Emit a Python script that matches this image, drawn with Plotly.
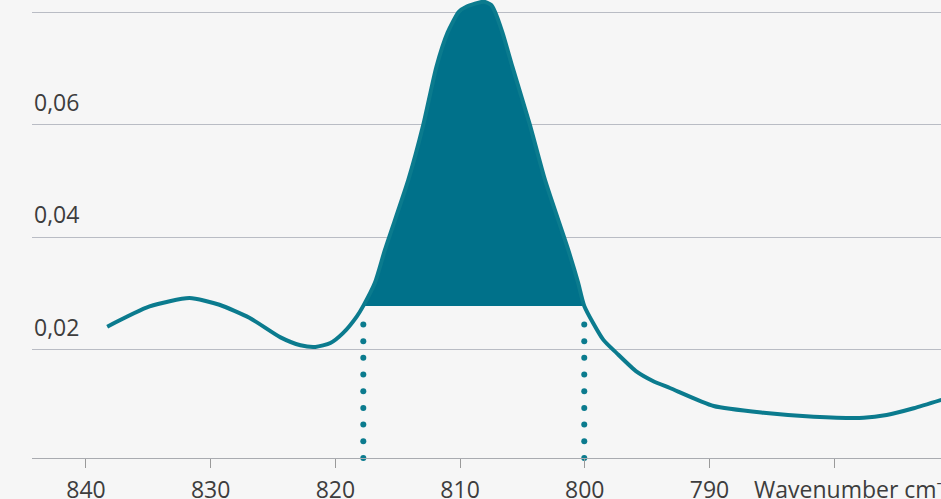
import numpy as np
import plotly.graph_objects as go

# ---- data ----
wavenumber = [838.3, 834.9, 831.7, 829.3, 826.9, 824.4, 822.8, 821.6, 820.4, 819.37, 818.29,
              817.76, 816.83, 816.02, 814.15, 812.95, 811.9, 811.0, 810.1, 809.5, 808.1, 807.5,
              807.2, 806.6, 805.8, 804.4, 803.19, 801.33, 800.53, 800.04, 798.52, 797.44, 795.84,
              794.5, 793.17, 789.66, 785.65, 781.64, 777.63, 775.79, 773.62, 771.4]
absorbance = [0.0241, 0.0277, 0.0292, 0.0280, 0.0257, 0.0222, 0.0208, 0.0205, 0.0212, 0.0230, 0.0259,
              0.0278, 0.0319, 0.0378, 0.0502, 0.0600, 0.0703, 0.0764, 0.0801, 0.0810, 0.0819, 0.0813,
              0.0801, 0.0764, 0.0703, 0.0600, 0.0502, 0.0378, 0.0319, 0.0278, 0.0218, 0.0194, 0.0161,
              0.0144, 0.0132, 0.0100, 0.0088, 0.0081, 0.0079, 0.0084, 0.0096, 0.0111]

band_start = 817.76   # integration limits
band_end = 800.04
band_baseline = 0.0278

x_tick_vals = [840, 830, 820, 810, 800, 790, 780]
x_tick_text = ["840", "830", "820", "810", "800", "790", " "]
y_tick_vals = [0.02, 0.04, 0.06, 0.08]
y_tick_text = ["0,02", "0,04", "0,06", ""]

LINE = "#0b7b8e"
FILL = "#00718a"
TXT = "#3d3d3d"
FONT = "Open Sans"
SMOOTH = 0.6

wn = np.array(wavenumber)
ab = np.array(absorbance)
mask = (wn <= band_start + 1e-9) & (wn >= band_end - 1e-9)

fig = go.Figure()

# baseline of the band (invisible), then the band filled to it
fig.add_trace(go.Scatter(x=[band_start, band_end], y=[band_baseline, band_baseline],
                         mode="lines", line=dict(width=0, color=FILL),
                         showlegend=False, hoverinfo="skip"))
fig.add_trace(go.Scatter(x=wn[mask], y=ab[mask], mode="lines",
                         line=dict(width=0, color=FILL, shape="spline", smoothing=SMOOTH),
                         fill="tonexty", fillcolor=FILL,
                         showlegend=False, hoverinfo="skip"))

# dotted drop lines from the band limits to the axis
dot_y = np.linspace(0.0245, 0.00075, 9)
for xv in [band_start, band_end]:
    fig.add_trace(go.Scatter(x=[xv] * len(dot_y), y=dot_y, mode="markers",
                             marker=dict(size=6, color=LINE),
                             showlegend=False, hoverinfo="skip", cliponaxis=False))

# spectrum line
fig.add_trace(go.Scatter(x=wavenumber, y=absorbance, mode="lines",
                         line=dict(width=4, color=LINE, shape="spline", smoothing=SMOOTH),
                         showlegend=False, cliponaxis=False))

# y labels above gridlines
for v, t in zip(y_tick_vals, y_tick_text):
    if t:
        fig.add_annotation(x=0, xref="paper", y=v, yref="y", text=t, showarrow=False,
                           xanchor="left", yanchor="middle", yshift=23,
                           font=dict(family=FONT, size=23, color=TXT))

fig.add_annotation(x=786.6, xref="x", y=-0.065, yref="paper",
                   text="Wavenumber cm<sup>-1</sup>", showarrow=False,
                   xanchor="left", yanchor="middle",
                   font=dict(family=FONT, size=23, color=TXT))

fig.update_layout(
    width=941, height=499, autosize=False,
    margin=dict(l=32, r=0, t=0, b=41, autoexpand=False),
    paper_bgcolor="#f6f6f6", plot_bgcolor="#f6f6f6",
    font=dict(family=FONT, size=23, color=TXT),
    xaxis=dict(range=[844.33, 771.43], tickvals=x_tick_vals, ticktext=x_tick_text,
               showgrid=False, zeroline=False, showline=True, linecolor="#a9abb0",
               linewidth=1, ticks="outside", ticklen=9, tickwidth=1, tickcolor="#9a9a9a",
               ticklabelstandoff=2, automargin=False,
               tickfont=dict(family=FONT, size=23, color=TXT)),
    yaxis=dict(range=[0.00075, 0.0822], tickvals=y_tick_vals, showticklabels=False,
               showgrid=True, gridcolor="#b9bcc4", gridwidth=1, zeroline=False,
               showline=False, ticks="", automargin=False),
)

fig.write_html("out.html", config={"displayModeBar": False},
               post_script="document.body.style.margin='0px';document.body.style.background='#f6f6f6';")
